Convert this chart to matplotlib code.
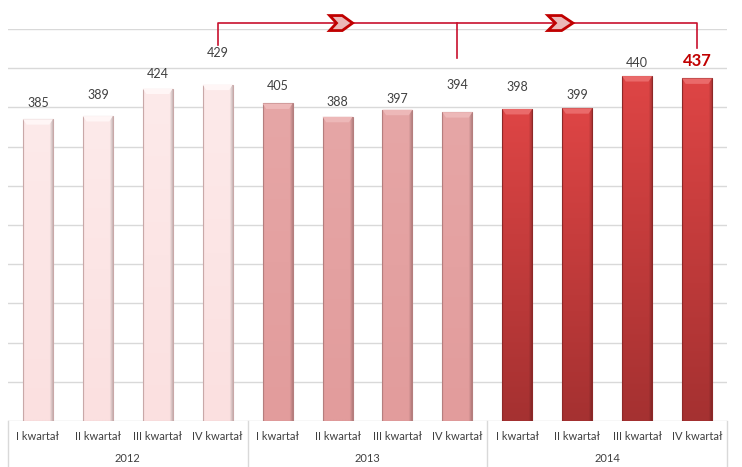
import matplotlib
matplotlib.use("Agg")
import matplotlib.pyplot as plt
import matplotlib.transforms as mtransforms
from matplotlib.patches import Polygon
import numpy as np
from matplotlib.colors import LinearSegmentedColormap

plt.rcParams['font.family'] = ['Lato', 'DejaVu Sans']

years = ["2012", "2013", "2014"]
quarters = ["I kwartał", "II kwartał", "III kwartał", "IV kwartał"]
values = [385, 389, 424, 429, 405, 388, 397, 394, 398, 399, 440, 437]
# label offsets above bar top (pixels), as placed in the original
label_offsets_px = [16, 21, 15, 32, 17, 15, 11, 27, 22, 13, 13, 17]

group_top = {"2012": "#FDEAEA", "2013": "#E6A6A6", "2014": "#DE4545"}
group_bot = {"2012": "#FBE0E0", "2013": "#E29C9C", "2014": "#A53131"}
group_edge = {"2012": "#C9A8A8", "2013": "#B57E7E", "2014": "#8E2828"}
group_bevel = {"2012": "#FFF6F6", "2013": "#EDB8B8", "2014": "#EA6A6A"}

W, H = 742, 467
fig = plt.figure(figsize=(W / 100, H / 100), dpi=100)
ax = fig.add_axes([8 / W, 46 / H, 719 / W, 392 / H])
ax.set_xlim(-0.5, len(values) - 0.5)
ax.set_ylim(0, 500)
for s in ax.spines.values():
    s.set_visible(False)
ax.set_xticks([])
ax.set_yticks([])
for g in range(0, 501, 50):
    ax.axhline(g, color="#D9D9D9", lw=1, zorder=0)

bw = 0.5
px_per_unit = 392 / 500
for i, v in enumerate(values):
    yr = years[i // 4]
    x0 = i - bw / 2
    cmap = LinearSegmentedColormap.from_list("g", [group_bot[yr], group_top[yr]])
    grad = np.linspace(0, 1, 100).reshape(-1, 1)
    horiz = np.ones((1, 50))
    horiz[0, -6:] = np.linspace(1, 0.8, 6)
    horiz[0, :3] = np.linspace(0.9, 1, 3)
    rgba = cmap(grad * np.ones((1, 50)))
    rgba[..., :3] *= horiz[..., None]
    rect = plt.Rectangle((x0, 0), bw, v, facecolor="none", edgecolor=group_edge[yr], lw=0.8, zorder=3)
    ax.add_patch(rect)
    im = ax.imshow(rgba, extent=[x0, x0 + bw, 0, v], origin="lower", aspect="auto", zorder=2)
    im.set_clip_path(rect)
    hb = 7
    d = 0.06
    bevel = Polygon([(x0, v), (x0 + bw, v), (x0 + bw - d, v - hb), (x0 + d, v - hb)],
                    closed=True, facecolor=group_bevel[yr], edgecolor="none", zorder=4)
    ax.add_patch(bevel)
    if i == len(values) - 1:
        ax.annotate(str(v), (i, v), xytext=(0, label_offsets_px[i] * 0.72), textcoords="offset points",
                    ha="center", va="center", fontsize=12, fontweight="bold", color="#C00000", zorder=6)
    else:
        ax.annotate(str(v), (i, v), xytext=(0, label_offsets_px[i] * 0.72), textcoords="offset points",
                    ha="center", va="center", fontsize=9, color="#404040", zorder=6)

ax.set_xlim(-0.5, len(values) - 0.5)
ax.set_ylim(0, 500)

trans = mtransforms.blended_transform_factory(ax.transData, ax.transAxes)
for i in range(len(values)):
    ax.text(i, -16 / 392, quarters[i % 4], transform=trans, ha="center", va="center",
            fontsize=8, color="#404040", clip_on=False)
for k, yr in enumerate(years):
    ax.text(4 * k + 1.5, -38 / 392, yr, transform=trans, ha="center", va="center",
            fontsize=8, color="#404040", clip_on=False)
for k in range(len(years) + 1):
    ax.plot([4 * k - 0.5, 4 * k - 0.5], [0, -46 / 392], transform=trans, color="#D9D9D9",
            lw=1, clip_on=False)

# bracket annotation from 2012 Q4 to 2014 Q4
red = "#C8102E"
ytop = 507.6
ax.plot([3, 3, 11, 11], [480, ytop, ytop, 476], color=red, lw=1.2, clip_on=False, zorder=5)
ax.plot([7, 7], [ytop, 463], color=red, lw=1.2, clip_on=False, zorder=5)

def chevron(cx, cy, wdata, hdata):
    x0 = cx - wdata / 2
    x1 = cx + wdata / 2
    a = wdata * 0.55
    n = wdata * 0.3
    pts = [(x0, cy + hdata / 2), (x0 + a, cy + hdata / 2), (x1, cy),
           (x0 + a, cy - hdata / 2), (x0, cy - hdata / 2), (x0 + n, cy)]
    ax.add_patch(Polygon(pts, closed=True, facecolor="#EBB8B8", edgecolor="#C00000",
                         lw=2, clip_on=False, zorder=7))

chevron(5.06, ytop, 23 / 59.9, 15 / px_per_unit)
chevron(8.72, ytop, 25 / 59.9, 15 / px_per_unit)

fig.savefig("out.png", dpi=100)
